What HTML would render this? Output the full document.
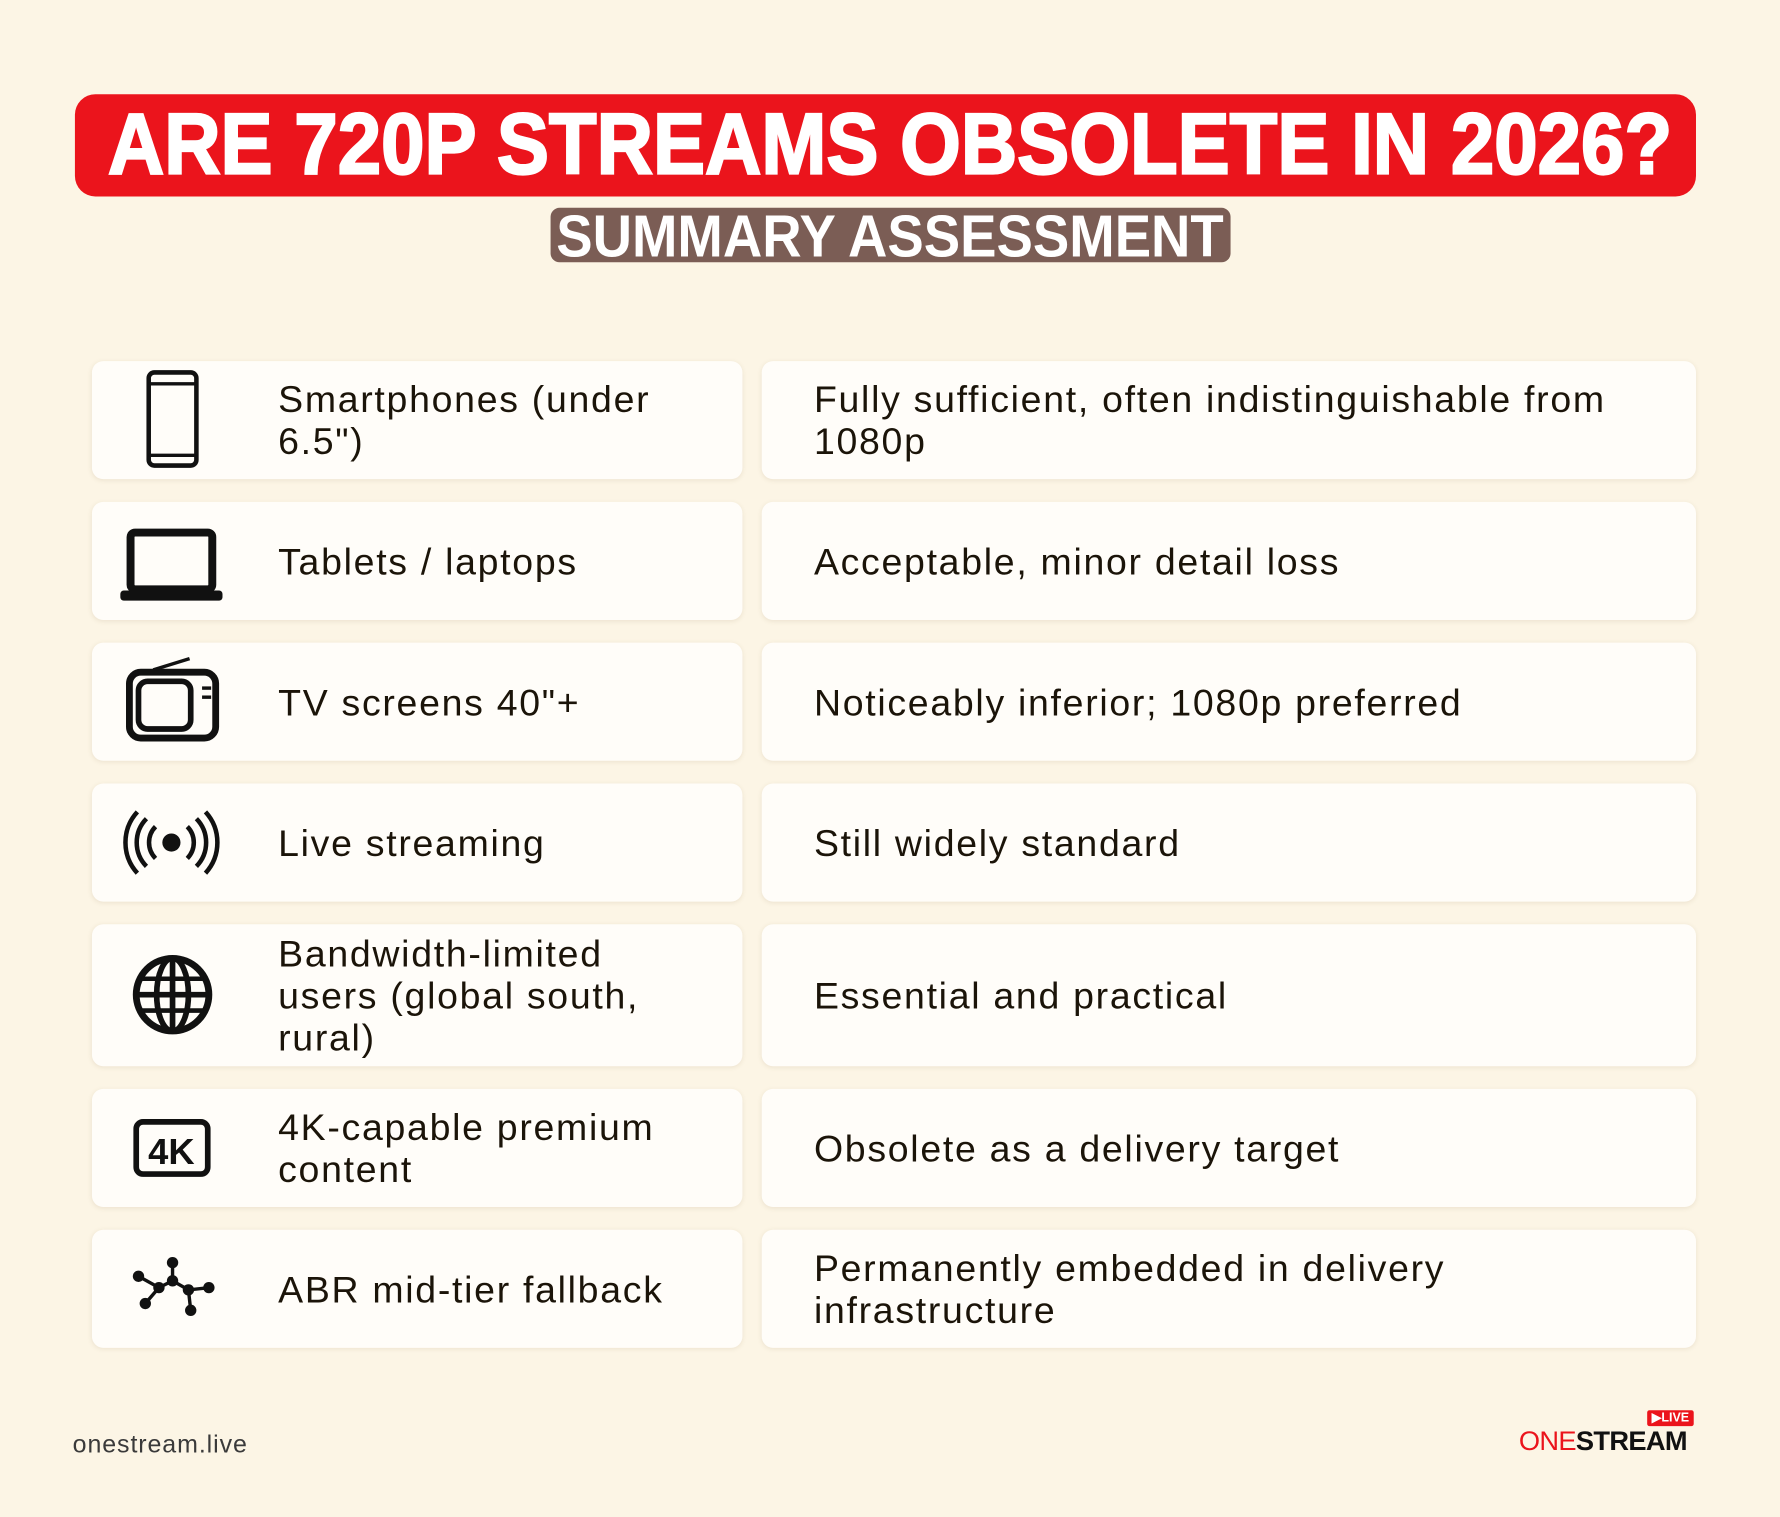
<!DOCTYPE html>
<html><head><meta charset="utf-8"><style>
html,body{margin:0;padding:0;}
body{width:1780px;height:1517px;overflow:hidden;background:#fcf5e5;}
#w{width:1568px;height:1336px;transform:scale(1.13520,1.13548);transform-origin:0 0;position:relative;font-family:"Liberation Sans",sans-serif;}
.c{position:absolute;background:#fffdf9;border-radius:10px;box-shadow:0 1px 4px rgba(120,100,60,0.12);}
.t{position:absolute;font-size:33px;line-height:37px;color:#1b1409;display:flex;align-items:center;letter-spacing:1.5px;}
</style></head><body><div id="w">
<div style="position:absolute;left:66px;top:83px;width:1428px;height:90px;background:#eb141c;border-radius:18px;"></div>
<svg style="position:absolute;left:0;top:0" width="1568" height="260">
<text x="95" y="153" textLength="1378" lengthAdjust="spacingAndGlyphs" font-family="Liberation Sans" font-weight="bold" font-size="76" fill="#fff" stroke="#fff" stroke-width="2">ARE 720P STREAMS OBSOLETE IN 2026?</text>
<rect x="485" y="183" width="599" height="48" rx="8" fill="#7b5d55"/>
<text x="490" y="226" textLength="588" lengthAdjust="spacingAndGlyphs" font-family="Liberation Sans" font-weight="bold" font-size="52" fill="#fff">SUMMARY ASSESSMENT</text>
</svg>

<div class="c" style="left:81px;top:318px;width:573px;height:104px"></div><div class="c" style="left:671px;top:318px;width:823px;height:104px"></div>
<div class="c" style="left:81px;top:442px;width:573px;height:104px"></div><div class="c" style="left:671px;top:442px;width:823px;height:104px"></div>
<div class="c" style="left:81px;top:566px;width:573px;height:104px"></div><div class="c" style="left:671px;top:566px;width:823px;height:104px"></div>
<div class="c" style="left:81px;top:690px;width:573px;height:104px"></div><div class="c" style="left:671px;top:690px;width:823px;height:104px"></div>
<div class="c" style="left:81px;top:814px;width:573px;height:125px"></div><div class="c" style="left:671px;top:814px;width:823px;height:125px"></div>
<div class="c" style="left:81px;top:959px;width:573px;height:104px"></div><div class="c" style="left:671px;top:959px;width:823px;height:104px"></div>
<div class="c" style="left:81px;top:1083px;width:573px;height:104px"></div><div class="c" style="left:671px;top:1083px;width:823px;height:104px"></div>

<div class="t" style="left:245px;top:318px;height:104px;width:400px">Smartphones (under<br>6.5")</div>
<div class="t" style="left:717px;top:318px;height:104px;width:770px">Fully sufficient, often indistinguishable from<br>1080p</div>
<div class="t" style="left:245px;top:442px;height:104px">Tablets / laptops</div>
<div class="t" style="left:717px;top:442px;height:104px">Acceptable, minor detail loss</div>
<div class="t" style="left:245px;top:566px;height:104px">TV screens 40"+</div>
<div class="t" style="left:717px;top:566px;height:104px">Noticeably inferior; 1080p preferred</div>
<div class="t" style="left:245px;top:690px;height:104px">Live streaming</div>
<div class="t" style="left:717px;top:690px;height:104px">Still widely standard</div>
<div class="t" style="left:245px;top:814px;height:125px">Bandwidth-limited<br>users (global south,<br>rural)</div>
<div class="t" style="left:717px;top:814px;height:125px">Essential and practical</div>
<div class="t" style="left:245px;top:959px;height:104px">4K-capable premium<br>content</div>
<div class="t" style="left:717px;top:959px;height:104px">Obsolete as a delivery target</div>
<div class="t" style="left:245px;top:1083px;height:104px">ABR mid-tier fallback</div>
<div class="t" style="left:717px;top:1083px;height:104px">Permanently embedded in delivery<br>infrastructure</div>

<svg style="position:absolute;left:0;top:0" width="300" height="1200" fill="none" stroke="#111" stroke-width="5">
<rect x="131" y="328" width="42" height="82" rx="5" stroke-width="4"/><line x1="131" y1="338" x2="173" y2="338" stroke-width="3"/><line x1="131" y1="401" x2="173" y2="401" stroke-width="3"/>
<rect x="115" y="469" width="72" height="50" rx="4" stroke-width="7"/><rect x="106" y="520" width="90" height="9" rx="3" fill="#111" stroke="none"/>
<rect x="114" y="592" width="76" height="58" rx="10" stroke-width="6"/><rect x="122" y="600" width="46" height="42" rx="8" stroke-width="5"/><line x1="135" y1="590" x2="167" y2="580" stroke-width="3"/><line x1="178" y1="606" x2="186" y2="606" stroke-width="3"/><line x1="178" y1="614" x2="186" y2="614" stroke-width="3"/>
<circle cx="151" cy="742" r="8" fill="#111" stroke="none"/>
<path d="M137 728a20 20 0 0 0 0 28M165 728a20 20 0 0 1 0 28M129 721a30 30 0 0 0 0 42M173 721a30 30 0 0 1 0 42M121 715a40 40 0 0 0 0 54M181 715a40 40 0 0 1 0 54" stroke-width="4"/>
<circle cx="152" cy="876" r="32" stroke-width="6"/><ellipse cx="152" cy="876" rx="14" ry="32" stroke-width="5"/><line x1="152" y1="844" x2="152" y2="908"/><line x1="120" y1="876" x2="184" y2="876"/><line x1="125" y1="862" x2="179" y2="862" stroke-width="4"/><line x1="125" y1="890" x2="179" y2="890" stroke-width="4"/>
<rect x="120" y="988" width="63" height="46" rx="6" stroke-width="5"/>
<path d="M122 1124L140 1134L152 1128L166 1136L184 1134M140 1134L128 1148M152 1128L152 1112M166 1136L168 1154" stroke-width="3"/>
<g fill="#111" stroke="none"><circle cx="122" cy="1124" r="5"/><circle cx="140" cy="1134" r="5"/><circle cx="152" cy="1128" r="5"/><circle cx="166" cy="1136" r="5"/><circle cx="184" cy="1134" r="5"/><circle cx="128" cy="1148" r="5"/><circle cx="152" cy="1112" r="5"/><circle cx="168" cy="1154" r="5"/></g>
<text x="151" y="1025" text-anchor="middle" font-family="Liberation Sans" font-weight="bold" font-size="32" fill="#111" stroke="none">4K</text>
</svg>

<div style="position:absolute;left:64px;top:1259px;font-size:22px;color:#3a3a3a;letter-spacing:0.8px;">onestream.live</div>
<div style="position:absolute;left:1451px;top:1242px;width:41px;height:14px;background:#eb141c;color:#fff;font-size:11px;font-weight:bold;line-height:14px;text-align:center;border-radius:2px;">▶LIVE</div>
<div style="position:absolute;left:1338px;top:1256px;font-size:24px;font-weight:bold;letter-spacing:-0.6px;"><span style="color:#eb141c;font-weight:normal">ONE</span><span style="color:#111">STREAM</span></div>
</div></body></html>
